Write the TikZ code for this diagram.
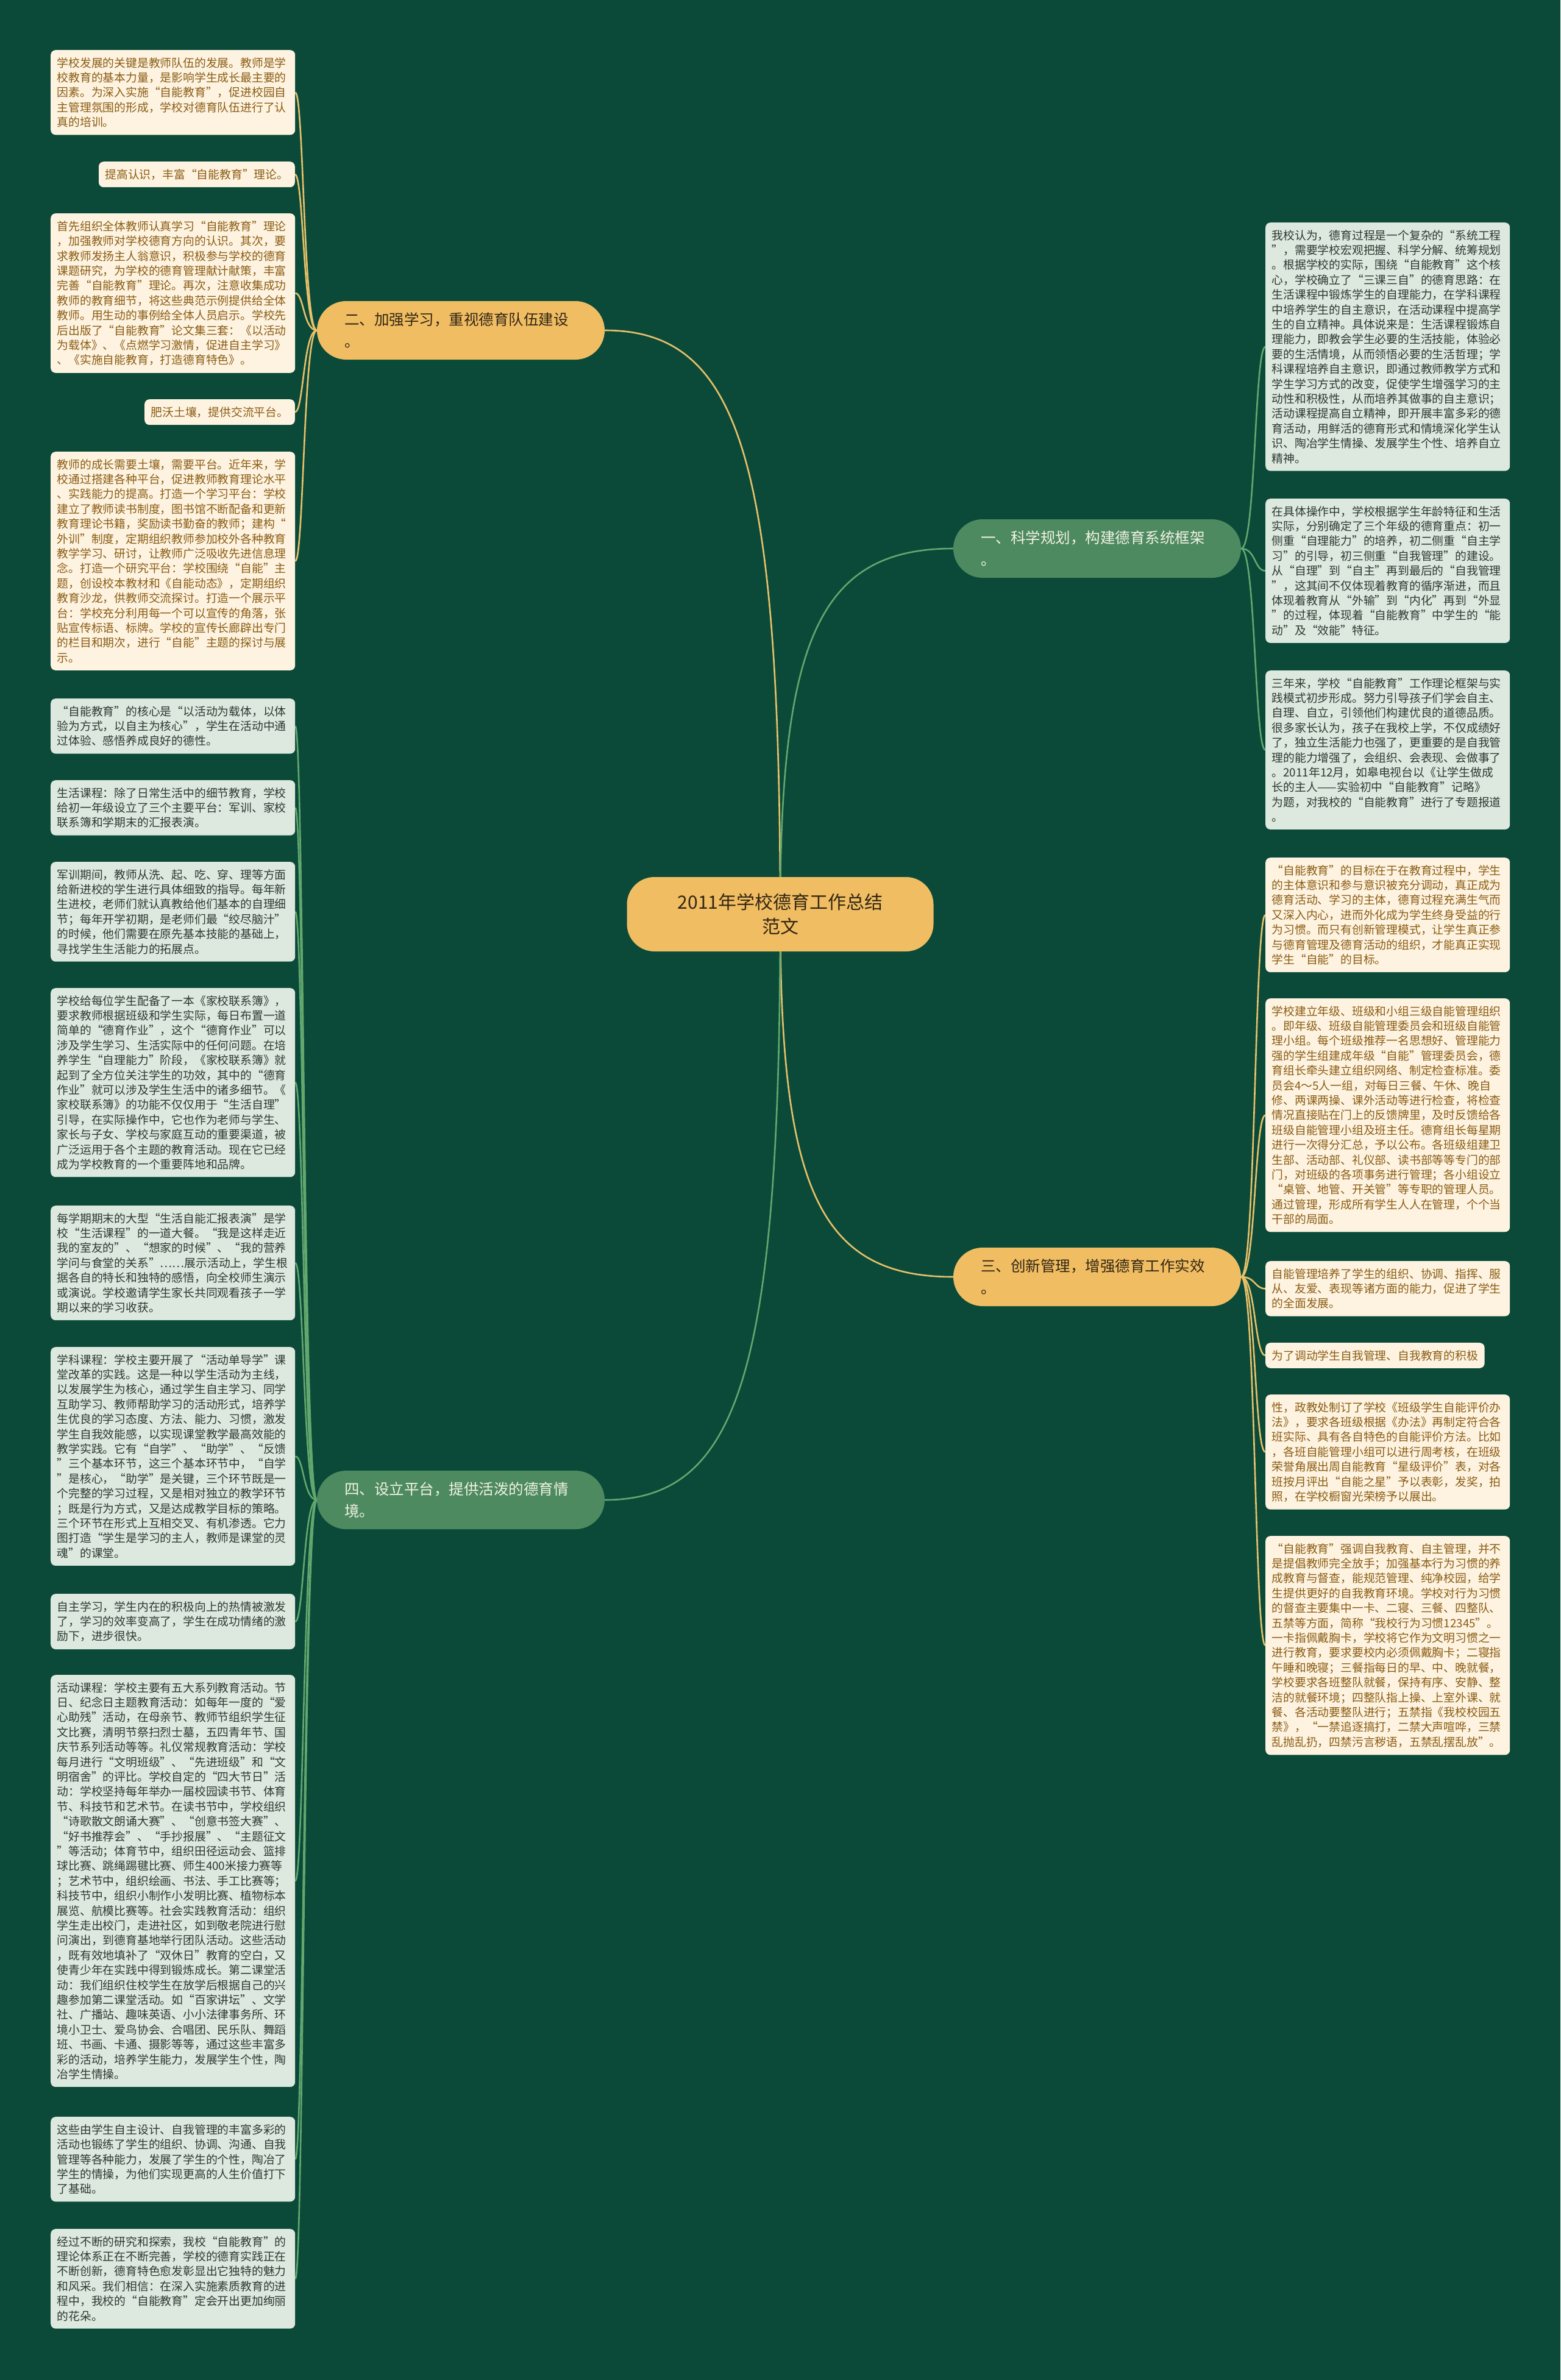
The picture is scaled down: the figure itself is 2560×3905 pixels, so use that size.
\documentclass[tikz,border=0pt]{standalone}
\usepackage{fontspec}
\setmainfont{Noto Sans CJK SC}
\usetikzlibrary{calc}
\definecolor{bgc}{RGB}{11,74,57}
\definecolor{goldfill}{RGB}{240,189,99}
\definecolor{greenfill}{RGB}{78,138,96}
\definecolor{leafgold}{RGB}{253,243,224}
\definecolor{leafgreen}{RGB}{221,232,222}
\definecolor{txtgold}{RGB}{139,92,20}
\definecolor{txtgreen}{RGB}{44,58,50}
\definecolor{txtdark}{RGB}{50,38,20}
\definecolor{txtlight}{RGB}{240,242,228}
\definecolor{linegold}{RGB}{232,193,106}
\definecolor{linegreen}{RGB}{98,168,110}
\pgfdeclarelayer{bglayer}
\pgfdeclarelayer{edgelayer}
\pgfsetlayers{bglayer,edgelayer,main}
\newcommand\leaffont{\fontsize{18.8}{24.4}\selectfont}
\newcommand\branchfont{\fontsize{24.5}{36}\selectfont}
\newcommand\centerfont{\fontsize{30}{40}\selectfont}
\tikzset{
  leafbase/.style={draw=none, rounded corners=8pt, inner xsep=10.5pt, inner ysep=12pt, align=left, font=\leaffont},
  leafg/.style={leafbase, fill=leafgold, text=txtgold, text width=380pt},
  leafn/.style={leafbase, fill=leafgreen, text=txtgreen, text width=380pt},
  shortg/.style={leafbase, fill=leafgold, text=txtgold},
  branchg/.style={draw=none, fill=goldfill, text=txtdark, rounded corners=48pt, minimum height=96pt, text width=382pt, inner xsep=45pt, align=left, font=\branchfont},
  branchn/.style={branchg, fill=greenfill, text=txtlight},
  centerbox/.style={draw=none, fill=goldfill, text=txtdark, rounded corners=45pt, minimum width=503pt, minimum height=122pt, align=center, font=\centerfont},
  gline/.style={draw=linegold, line width=2.6pt},
  nline/.style={draw=linegreen, line width=2.6pt}
}
\begin{document}
\begin{tikzpicture}[x=1pt,y=-1pt]
\begin{pgfonlayer}{bglayer}
\fill[bgc] (0,0) rectangle (2560,3905);
\end{pgfonlayer}
\useasboundingbox (0,0) rectangle (2560,3905);

% centre
\node[centerbox] (C) at (1280,1500) {2011年学校德育工作总结\\范文};

% branches
\node[branchg] (B2) at (756,542) {二、加强学习，重视德育队伍建设\\。};
\node[branchn] (B1) at (1800,900) {一、科学规划，构建德育系统框架\\。};
\node[branchg] (B3) at (1800,2095) {三、创新管理，增强德育工作实效\\。};
\node[branchn] (B4) at (756,2461) {四、设立平台，提供活泼的德育情\\境。};

% left gold leaves
\node[leafg, anchor=north west] (L1) at (83,82) {学校发展的关键是教师队伍的发展。教师是学\\校教育的基本力量，是影响学生成长最主要的\\因素。为深入实施“自能教育”，促进校园自\\主管理氛围的形成，学校对德育队伍进行了认\\真的培训。};
\node[shortg, anchor=north east] (L2) at (484,265) {提高认识，丰富“自能教育”理论。};
\node[leafg, anchor=north west] (L3) at (83,350) {首先组织全体教师认真学习“自能教育”理论\\，加强教师对学校德育方向的认识。其次，要\\求教师发扬主人翁意识，积极参与学校的德育\\课题研究，为学校的德育管理献计献策，丰富\\完善“自能教育”理论。再次，注意收集成功\\教师的教育细节，将这些典范示例提供给全体\\教师。用生动的事例给全体人员启示。学校先\\后出版了“自能教育”论文集三套：《以活动\\为载体》、《点燃学习激情，促进自主学习》\\、《实施自能教育，打造德育特色》。};
\node[shortg, anchor=north east] (L4) at (484,655) {肥沃土壤，提供交流平台。};
\node[leafg, anchor=north west] (L5) at (83,741) {教师的成长需要土壤，需要平台。近年来，学\\校通过搭建各种平台，促进教师教育理论水平\\、实践能力的提高。打造一个学习平台：学校\\建立了教师读书制度，图书馆不断配备和更新\\教育理论书籍，奖励读书勤奋的教师；建构“\\外训”制度，定期组织教师参加校外各种教育\\教学学习、研讨，让教师广泛吸收先进信息理\\念。打造一个研究平台：学校围绕“自能”主\\题，创设校本教材和《自能动态》，定期组织\\教育沙龙，供教师交流探讨。打造一个展示平\\台：学校充分利用每一个可以宣传的角落，张\\贴宣传标语、标牌。学校的宣传长廊辟出专门\\的栏目和期次，进行“自能”主题的探讨与展\\示。};

% left green leaves
\node[leafn, anchor=north west] (G1) at (83,1146) {“自能教育”的核心是“以活动为载体，以体\\验为方式，以自主为核心”，学生在活动中通\\过体验、感悟养成良好的德性。};
\node[leafn, anchor=north west] (G2) at (83,1280) {生活课程：除了日常生活中的细节教育，学校\\给初一年级设立了三个主要平台：军训、家校\\联系簿和学期末的汇报表演。};
\node[leafn, anchor=north west] (G3) at (83,1414) {军训期间，教师从洗、起、吃、穿、理等方面\\给新进校的学生进行具体细致的指导。每年新\\生进校，老师们就认真教给他们基本的自理细\\节；每年开学初期，是老师们最“绞尽脑汁”\\的时候，他们需要在原先基本技能的基础上，\\寻找学生生活能力的拓展点。};
\node[leafn, anchor=north west] (G4) at (83,1621) {学校给每位学生配备了一本《家校联系簿》，\\要求教师根据班级和学生实际，每日布置一道\\简单的“德育作业”，这个“德育作业”可以\\涉及学生学习、生活实际中的任何问题。在培\\养学生“自理能力”阶段，《家校联系簿》就\\起到了全方位关注学生的功效，其中的“德育\\作业”就可以涉及学生生活中的诸多细节。《\\家校联系簿》的功能不仅仅用于“生活自理”\\引导，在实际操作中，它也作为老师与学生、\\家长与子女、学校与家庭互动的重要渠道，被\\广泛运用于各个主题的教育活动。现在它已经\\成为学校教育的一个重要阵地和品牌。};
\node[leafn, anchor=north west] (G5) at (83,1978) {每学期期末的大型“生活自能汇报表演”是学\\校“生活课程”的一道大餐。“我是这样走近\\我的室友的”、“想家的时候”、“我的营养\\学问与食堂的关系”……展示活动上，学生根\\据各自的特长和独特的感悟，向全校师生演示\\或演说。学校邀请学生家长共同观看孩子一学\\期以来的学习收获。};
\node[leafn, anchor=north west] (G6) at (83,2210) {学科课程：学校主要开展了“活动单导学”课\\堂改革的实践。这是一种以学生活动为主线，\\以发展学生为核心，通过学生自主学习、同学\\互助学习、教师帮助学习的活动形式，培养学\\生优良的学习态度、方法、能力、习惯，激发\\学生自我效能感，以实现课堂教学最高效能的\\教学实践。它有“自学”、“助学”、“反馈\\”三个基本环节，这三个基本环节中，“自学\\”是核心，“助学”是关键，三个环节既是一\\个完整的学习过程，又是相对独立的教学环节\\；既是行为方式，又是达成教学目标的策略。\\三个环节在形式上互相交叉、有机渗透。它力\\图打造“学生是学习的主人，教师是课堂的灵\\魂”的课堂。};
\node[leafn, anchor=north west] (G7) at (83,2615) {自主学习，学生内在的积极向上的热情被激发\\了，学习的效率变高了，学生在成功情绪的激\\励下，进步很快。};
\node[leafn, anchor=north west] (G8) at (83,2748) {活动课程：学校主要有五大系列教育活动。节\\日、纪念日主题教育活动：如每年一度的“爱\\心助残”活动，在母亲节、教师节组织学生征\\文比赛，清明节祭扫烈士墓，五四青年节、国\\庆节系列活动等等。礼仪常规教育活动：学校\\每月进行“文明班级”、“先进班级”和“文\\明宿舍”的评比。学校自定的“四大节日”活\\动：学校坚持每年举办一届校园读书节、体育\\节、科技节和艺术节。在读书节中，学校组织\\“诗歌散文朗诵大赛”、“创意书签大赛”、\\“好书推荐会”、“手抄报展”、“主题征文\\”等活动；体育节中，组织田径运动会、篮排\\球比赛、跳绳踢毽比赛、师生400米接力赛等\\；艺术节中，组织绘画、书法、手工比赛等；\\科技节中，组织小制作小发明比赛、植物标本\\展览、航模比赛等。社会实践教育活动：组织\\学生走出校门，走进社区，如到敬老院进行慰\\问演出，到德育基地举行团队活动。这些活动\\，既有效地填补了“双休日”教育的空白，又\\使青少年在实践中得到锻炼成长。第二课堂活\\动：我们组织住校学生在放学后根据自己的兴\\趣参加第二课堂活动。如“百家讲坛”、文学\\社、广播站、趣味英语、小小法律事务所、环\\境小卫士、爱鸟协会、合唱团、民乐队、舞蹈\\班、书画、卡通、摄影等等，通过这些丰富多\\彩的活动，培养学生能力，发展学生个性，陶\\冶学生情操。};
\node[leafn, anchor=north west] (G9) at (83,3473) {这些由学生自主设计、自我管理的丰富多彩的\\活动也锻练了学生的组织、协调、沟通、自我\\管理等各种能力，发展了学生的个性，陶冶了\\学生的情操，为他们实现更高的人生价值打下\\了基础。};
\node[leafn, anchor=north west] (G10) at (83,3657) {经过不断的研究和探索，我校“自能教育”的\\理论体系正在不断完善，学校的德育实践正在\\不断创新，德育特色愈发彰显出它独特的魅力\\和风采。我们相信：在深入实施素质教育的进\\程中，我校的“自能教育”定会开出更加绚丽\\的花朵。};

% right green leaves
\node[leafn, anchor=north west] (R1) at (2076,365) {我校认为，德育过程是一个复杂的“系统工程\\”，需要学校宏观把握、科学分解、统筹规划\\。根据学校的实际，围绕“自能教育”这个核\\心，学校确立了“三课三自”的德育思路：在\\生活课程中锻炼学生的自理能力，在学科课程\\中培养学生的自主意识，在活动课程中提高学\\生的自立精神。具体说来是：生活课程锻炼自\\理能力，即教会学生必要的生活技能，体验必\\要的生活情境，从而领悟必要的生活哲理；学\\科课程培养自主意识，即通过教师教学方式和\\学生学习方式的改变，促使学生增强学习的主\\动性和积极性，从而培养其做事的自主意识；\\活动课程提高自立精神，即开展丰富多彩的德\\育活动，用鲜活的德育形式和情境深化学生认\\识、陶冶学生情操、发展学生个性、培养自立\\精神。};
\node[leafn, anchor=north west] (R2) at (2076,818) {在具体操作中，学校根据学生年龄特征和生活\\实际，分别确定了三个年级的德育重点：初一\\侧重“自理能力”的培养，初二侧重“自主学\\习”的引导，初三侧重“自我管理”的建设。\\从“自理”到“自主”再到最后的“自我管理\\”，这其间不仅体现着教育的循序渐进，而且\\体现着教育从“外输”到“内化”再到“外显\\”的过程，体现着“自能教育”中学生的“能\\动”及“效能”特征。};
\node[leafn, anchor=north west] (R3) at (2076,1100) {三年来，学校“自能教育”工作理论框架与实\\践模式初步形成。努力引导孩子们学会自主、\\自理、自立，引领他们构建优良的道德品质。\\很多家长认为，孩子在我校上学，不仅成绩好\\了，独立生活能力也强了，更重要的是自我管\\理的能力增强了，会组织、会表现、会做事了\\。2011年12月，如皋电视台以《让学生做成\\长的主人——实验初中“自能教育”记略》\\为题，对我校的“自能教育”进行了专题报道\\。};

% right gold leaves
\node[leafg, anchor=north west] (R4) at (2076,1407) {“自能教育”的目标在于在教育过程中，学生\\的主体意识和参与意识被充分调动，真正成为\\德育活动、学习的主体，德育过程充满生气而\\又深入内心，进而外化成为学生终身受益的行\\为习惯。而只有创新管理模式，让学生真正参\\与德育管理及德育活动的组织，才能真正实现\\学生“自能”的目标。};
\node[leafg, anchor=north west] (R5) at (2076,1638) {学校建立年级、班级和小组三级自能管理组织\\。即年级、班级自能管理委员会和班级自能管\\理小组。每个班级推荐一名思想好、管理能力\\强的学生组建成年级“自能”管理委员会，德\\育组长牵头建立组织网络、制定检查标准。委\\员会4～5人一组，对每日三餐、午休、晚自\\修、两课两操、课外活动等进行检查，将检查\\情况直接贴在门上的反馈牌里，及时反馈给各\\班级自能管理小组及班主任。德育组长每星期\\进行一次得分汇总，予以公布。各班级组建卫\\生部、活动部、礼仪部、读书部等等专门的部\\门，对班级的各项事务进行管理；各小组设立\\“桌管、地管、开关管”等专职的管理人员。\\通过管理，形成所有学生人人在管理，个个当\\干部的局面。};
\node[leafg, anchor=north west] (R6) at (2076,2069) {自能管理培养了学生的组织、协调、指挥、服\\从、友爱、表现等诸方面的能力，促进了学生\\的全面发展。};
\node[shortg, anchor=north west] (R7) at (2076,2203) {为了调动学生自我管理、自我教育的积极};
\node[leafg, anchor=north west] (R8) at (2076,2288) {性，政教处制订了学校《班级学生自能评价办\\法》，要求各班级根据《办法》再制定符合各\\班实际、具有各自特色的自能评价方法。比如\\，各班自能管理小组可以进行周考核，在班级\\荣誉角展出周自能教育“星级评价”表，对各\\班按月评出“自能之星”予以表彰，发奖，拍\\照，在学校橱窗光荣榜予以展出。};
\node[leafg, anchor=north west] (R9) at (2076,2520) {“自能教育”强调自我教育、自主管理，并不\\是提倡教师完全放手；加强基本行为习惯的养\\成教育与督查，能规范管理、纯净校园，给学\\生提供更好的自我教育环境。学校对行为习惯\\的督查主要集中一卡、二寝、三餐、四整队、\\五禁等方面，简称“我校行为习惯12345”。\\一卡指佩戴胸卡，学校将它作为文明习惯之一\\进行教育，要求要校内必须佩戴胸卡；二寝指\\午睡和晚寝；三餐指每日的早、中、晚就餐，\\学校要求各班整队就餐，保持有序、安静、整\\洁的就餐环境；四整队指上操、上室外课、就\\餐、各活动要整队进行；五禁指《我校校园五\\禁》，“一禁追逐搞打，二禁大声喧哗，三禁\\乱抛乱扔，四禁污言秽语，五禁乱摆乱放”。};

\begin{pgfonlayer}{edgelayer}
% centre to branches
\draw[gline] (C.center) .. controls ($(C.center)+(0,-750)$) and ($(B2.east)+(220,0)$) .. (B2.east);
\draw[nline] (C.center) .. controls ($(C.center)+(0,-450)$) and ($(B1.west)+(-220,0)$) .. (B1.west);
\draw[gline] (C.center) .. controls ($(C.center)+(0,450)$) and ($(B3.west)+(-220,0)$) .. (B3.west);
\draw[nline] (C.center) .. controls ($(C.center)+(0,750)$) and ($(B4.east)+(220,0)$) .. (B4.east);
% branch 2 leaves
\foreach \n in {L1,L2,L3,L4,L5}
  \draw[gline] (B2.west) .. controls ($(B2.west)+(-22,0)$) and ($(\n.east)+(14,0)$) .. (\n.east);
% branch 4 leaves
\foreach \n in {G1,G2,G3,G4,G5,G6,G7,G8,G9,G10}
  \draw[nline] (B4.west) .. controls ($(B4.west)+(-22,0)$) and ($(\n.east)+(14,0)$) .. (\n.east);
% branch 1 leaves
\foreach \n in {R1,R2,R3}
  \draw[nline] (B1.east) .. controls ($(B1.east)+(24,0)$) and ($(\n.west)+(-18,0)$) .. (\n.west);
% branch 3 leaves
\foreach \n in {R4,R5,R6,R7,R8,R9}
  \draw[gline] (B3.east) .. controls ($(B3.east)+(24,0)$) and ($(\n.west)+(-18,0)$) .. (\n.west);
\end{pgfonlayer}
\end{tikzpicture}
\end{document}
